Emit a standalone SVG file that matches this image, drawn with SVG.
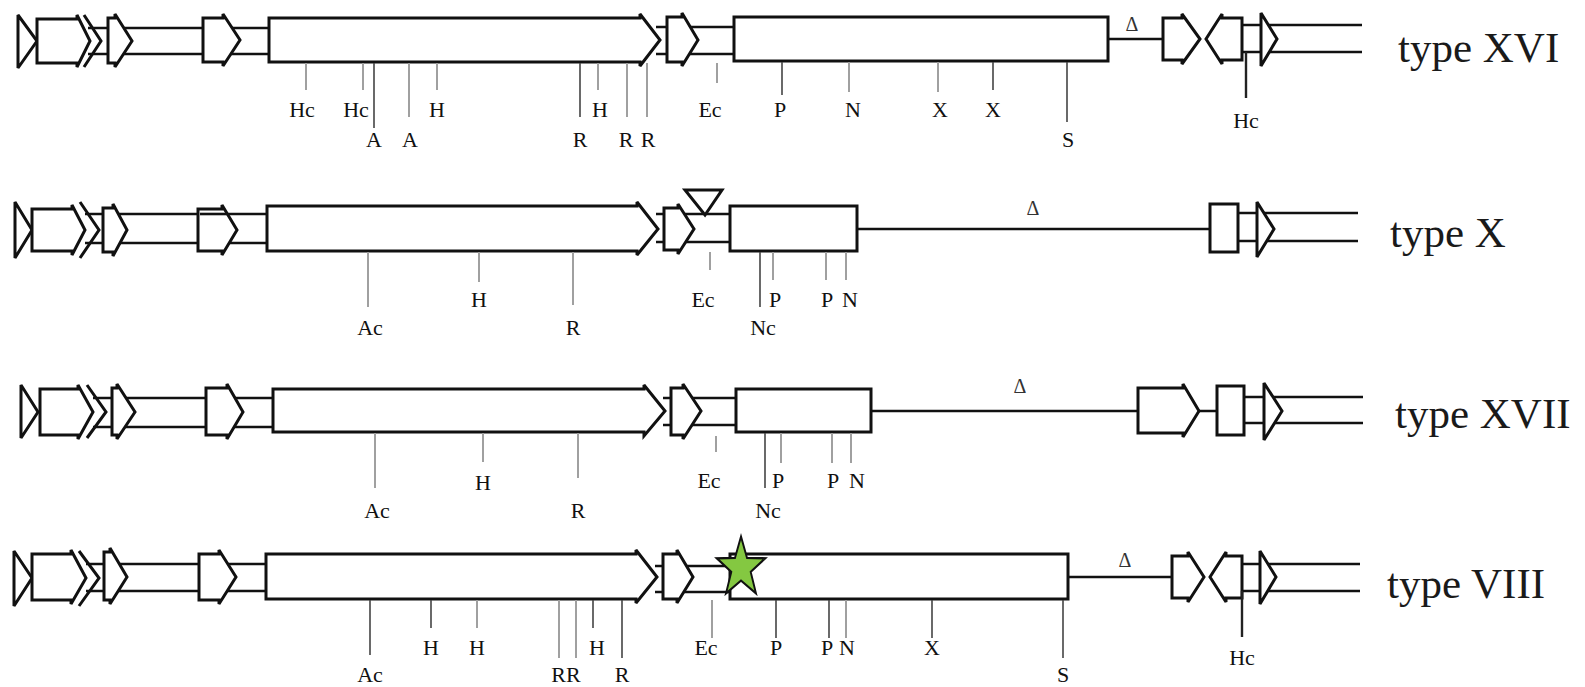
<svg xmlns="http://www.w3.org/2000/svg" width="1585" height="687" viewBox="0 0 1585 687">
<style>
  .o{fill:#fff;stroke:#111;stroke-width:3;stroke-linejoin:miter;stroke-miterlimit:3}
  .ch{fill:none;stroke:#111;stroke-width:3;stroke-miterlimit:3}
  .t{stroke:#111;stroke-width:2.6;fill:none}
  .g{stroke:#a0a0a0;stroke-width:2}
  .k{stroke:#444;stroke-width:1.6}
  .lb{font-family:"Liberation Serif","Times New Roman",serif;font-size:22px;fill:#111;text-anchor:middle}
  .d{font-family:"Liberation Serif","Times New Roman",serif;font-size:20px;fill:#333;text-anchor:middle}
  .ty{font-family:"Liberation Serif","Times New Roman",serif;font-size:43px;fill:#1a1a1a}
</style>
<rect width="1585" height="687" fill="#fff"/>

<!-- ===== type XVI ===== -->
<g id="type-XVI">
  <g id="xvi-tubes">
    <path class="t" d="M88 28H269M88 54H269M656 27H734M656 54H734M1108 39H1163M1242 25H1362M1242 52H1362"/>
  </g>
  <polygon class="o" points="18,15 37,41 18,68"/>
  <polygon class="o" points="37,19 77,19 77,15 90,41 77,67 77,63 37,63"/>
  <polyline class="ch" points="84,15 101,41 84,67"/>
  <polygon class="o" points="108,18 115,18 115,14 132,41 115,67 115,63 108,63"/>
  <polygon class="o" points="203,18 223,18 223,14 240,40 223,66 223,62 203,62"/>
  <polygon class="o" points="269,18 640,18 640,14 660,40 640,66 640,62 269,62"/>
  <polygon class="o" points="667,17 682,17 682,13 698,40 682,66 682,62 667,62"/>
  <rect class="o" x="734" y="17" width="374" height="44"/>
  <text class="d" x="1132" y="31">Δ</text>
  <polygon class="o" points="1163,18 1182,18 1182,14 1200,39 1182,64 1182,60 1163,60"/>
  <polygon class="o" points="1242,18 1222,18 1222,14 1206,39 1222,64 1222,60 1242,60"/>
  <polygon class="o" points="1261,13 1277,39 1261,66"/>
  <text class="ty" x="1398" y="62">type XVI</text>
  <g id="xvi-sites">
    <line class="g" x1="306" y1="63" x2="306" y2="90"/>
    <line class="g" x1="363" y1="63" x2="363" y2="90"/>
    <line class="k" x1="374" y1="63" x2="374" y2="128"/>
    <line class="g" x1="409" y1="63" x2="409" y2="117"/>
    <line class="g" x1="437" y1="63" x2="437" y2="90"/>
    <line class="k" x1="580" y1="63" x2="580" y2="117"/>
    <line class="g" x1="598" y1="63" x2="598" y2="90"/>
    <line class="g" x1="627" y1="63" x2="627" y2="117"/>
    <line class="g" x1="647" y1="63" x2="647" y2="117"/>
    <line class="g" x1="717" y1="63" x2="717" y2="83"/>
    <line class="k" x1="782" y1="62" x2="782" y2="95"/>
    <line class="g" x1="849" y1="62" x2="849" y2="92"/>
    <line class="g" x1="938" y1="62" x2="938" y2="92"/>
    <line class="k" x1="993" y1="62" x2="993" y2="90"/>
    <line class="k" x1="1067" y1="62" x2="1067" y2="122"/>
    <line stroke="#222" stroke-width="2.4" x1="1246" y1="52" x2="1246" y2="98"/>
    <text class="lb" x="302" y="117">Hc</text>
    <text class="lb" x="356" y="117">Hc</text>
    <text class="lb" x="374" y="147">A</text>
    <text class="lb" x="410" y="147">A</text>
    <text class="lb" x="437" y="117">H</text>
    <text class="lb" x="580" y="147">R</text>
    <text class="lb" x="600" y="117">H</text>
    <text class="lb" x="626" y="147">R</text>
    <text class="lb" x="648" y="147">R</text>
    <text class="lb" x="710" y="117">Ec</text>
    <text class="lb" x="780" y="117">P</text>
    <text class="lb" x="853" y="117">N</text>
    <text class="lb" x="940" y="117">X</text>
    <text class="lb" x="993" y="117">X</text>
    <text class="lb" x="1068" y="147">S</text>
    <text class="lb" x="1246" y="128">Hc</text>
  </g>
</g>

<!-- ===== type X ===== -->
<g id="type-X">
  <g id="x-tubes">
    <path class="t" d="M85 214H267M85 243H267M656 214H730M656 242H730M857 229H1210M1238 213H1358M1238 241H1358"/>
  </g>
  <polygon class="o" points="15,202 32,230 15,258"/>
  <polygon class="o" points="32,209 72,209 72,205 85,230 72,255 72,251 32,251"/>
  <polyline class="ch" points="80,202 99,230 80,258"/>
  <polygon class="o" points="103,208 113,208 113,204 127,230 113,256 113,252 103,252"/>
  <polygon class="o" points="198,209 222,209 222,205 237,230 222,255 222,251 198,251"/>
  <line class="t" x1="200" y1="214" x2="228" y2="214"/>
  <polygon class="o" points="267,206 637,206 637,202 658,229 637,255 637,251 267,251"/>
  <polygon class="o" points="664,208 678,208 678,204 694,229 678,254 678,250 664,250"/>
  <polygon class="o" points="685,190 722,190 705,215"/>
  <rect class="o" x="730" y="206" width="127" height="45"/>
  <text class="d" x="1033" y="215">Δ</text>
  <rect class="o" x="1210" y="204" width="28" height="48"/>
  <polygon class="o" points="1257,202 1274,229 1257,257"/>
  <text class="ty" x="1390" y="247">type X</text>
  <g id="x-sites">
    <line class="g" x1="368" y1="252" x2="368" y2="307"/>
    <line class="g" x1="479" y1="252" x2="479" y2="282"/>
    <line class="g" x1="573" y1="252" x2="573" y2="305"/>
    <line class="g" x1="710" y1="252" x2="710" y2="270"/>
    <line class="k" x1="760" y1="252" x2="760" y2="307"/>
    <line class="g" x1="773" y1="252" x2="773" y2="280"/>
    <line class="g" x1="826" y1="252" x2="826" y2="280"/>
    <line class="g" x1="846" y1="252" x2="846" y2="280"/>
    <text class="lb" x="370" y="335">Ac</text>
    <text class="lb" x="479" y="307">H</text>
    <text class="lb" x="573" y="335">R</text>
    <text class="lb" x="703" y="307">Ec</text>
    <text class="lb" x="763" y="335">Nc</text>
    <text class="lb" x="775" y="307">P</text>
    <text class="lb" x="827" y="307">P</text>
    <text class="lb" x="850" y="307">N</text>
  </g>
</g>

<!-- ===== type XVII ===== -->
<g id="type-XVII">
  <g id="xvii-tubes">
    <path class="t" d="M93 398H273M93 427H273M663 398H736M663 425H736M871 411H1138M1199 411H1217M1244 397H1363M1244 423H1363"/>
  </g>
  <polygon class="o" points="21,385 38,412 21,438"/>
  <polygon class="o" points="40,389 78,389 78,385 93,412 78,439 78,435 40,435"/>
  <polyline class="ch" points="87,385 106,412 87,438"/>
  <polygon class="o" points="112,388 117,388 117,384 135,412 117,439 117,435 112,435"/>
  <polygon class="o" points="206,388 227,388 227,384 243,412 227,439 227,435 206,435"/>
  <polygon class="o" points="273,389 644,389 644,385 665,411 644,436 644,432 273,432"/>
  <polygon class="o" points="671,388 683,388 683,384 701,411 683,439 683,435 671,435"/>
  <rect class="o" x="736" y="389" width="135" height="43"/>
  <text class="d" x="1020" y="393">Δ</text>
  <polygon class="o" points="1138,388 1183,388 1183,384 1199,411 1183,437 1183,433 1138,433"/>
  <rect class="o" x="1217" y="386" width="27" height="49"/>
  <polygon class="o" points="1264,383 1282,411 1264,440"/>
  <text class="ty" x="1395" y="428">type XVII</text>
  <g id="xvii-sites">
    <line class="g" x1="375" y1="433" x2="375" y2="488"/>
    <line class="g" x1="483" y1="433" x2="483" y2="462"/>
    <line class="g" x1="578" y1="433" x2="578" y2="478"/>
    <line class="g" x1="716" y1="436" x2="716" y2="452"/>
    <line class="k" x1="765" y1="433" x2="765" y2="488"/>
    <line class="g" x1="781" y1="433" x2="781" y2="463"/>
    <line class="g" x1="832" y1="433" x2="832" y2="463"/>
    <line class="g" x1="851" y1="433" x2="851" y2="463"/>
    <text class="lb" x="377" y="518">Ac</text>
    <text class="lb" x="483" y="490">H</text>
    <text class="lb" x="578" y="518">R</text>
    <text class="lb" x="709" y="488">Ec</text>
    <text class="lb" x="768" y="518">Nc</text>
    <text class="lb" x="778" y="488">P</text>
    <text class="lb" x="833" y="488">P</text>
    <text class="lb" x="857" y="488">N</text>
  </g>
</g>

<!-- ===== type VIII ===== -->
<g id="type-VIII">
  <g id="viii-tubes">
    <path class="t" d="M86 564H266M86 591H266M655 566H730M655 592H730M1068 577H1172M1242 564H1360M1242 591H1360"/>
  </g>
  <polygon class="o" points="14,551 32,578 14,606"/>
  <polygon class="o" points="32,554 71,554 71,550 86,578 71,604 71,600 32,600"/>
  <polyline class="ch" points="79,551 99,578 79,606"/>
  <polygon class="o" points="104,552 110,552 110,548 127,577 110,604 110,600 104,600"/>
  <polygon class="o" points="199,554 219,554 219,550 236,577 219,604 219,600 199,600"/>
  <polygon class="o" points="266,554 636,554 636,550 657,577 636,603 636,599 266,599"/>
  <polygon class="o" points="663,554 677,554 677,550 693,577 677,603 677,599 663,599"/>
  <rect class="o" x="730" y="554" width="338" height="45"/>
  <text class="d" x="1125" y="567">Δ</text>
  <polygon class="o" points="1172,556 1188,556 1188,552 1204,577 1188,602 1188,598 1172,598"/>
  <polygon class="o" points="1242,556 1226,556 1226,552 1210,577 1226,602 1226,598 1242,598"/>
  <polygon class="o" points="1260,551 1276,577 1260,604"/>
  <text class="ty" x="1387" y="598">type VIII</text>
  <g id="viii-sites">
    <line class="k" x1="370" y1="600" x2="370" y2="655"/>
    <line class="k" x1="431" y1="600" x2="431" y2="628"/>
    <line class="g" x1="477" y1="600" x2="477" y2="628"/>
    <line class="g" x1="559" y1="600" x2="559" y2="658"/>
    <line class="g" x1="576" y1="600" x2="576" y2="658"/>
    <line class="k" x1="593" y1="600" x2="593" y2="628"/>
    <line class="k" x1="622" y1="600" x2="622" y2="658"/>
    <line class="g" x1="712" y1="600" x2="712" y2="638"/>
    <line class="k" x1="776" y1="600" x2="776" y2="638"/>
    <line class="k" x1="829" y1="600" x2="829" y2="638"/>
    <line class="g" x1="846" y1="600" x2="846" y2="638"/>
    <line class="k" x1="932" y1="600" x2="932" y2="638"/>
    <line class="k" x1="1063" y1="600" x2="1063" y2="658"/>
    <line stroke="#222" stroke-width="2.4" x1="1242" y1="591" x2="1242" y2="637"/>
    <text class="lb" x="370" y="682">Ac</text>
    <text class="lb" x="431" y="655">H</text>
    <text class="lb" x="477" y="655">H</text>
    <text class="lb" x="566" y="682">RR</text>
    <text class="lb" x="597" y="655">H</text>
    <text class="lb" x="622" y="682">R</text>
    <text class="lb" x="706" y="655">Ec</text>
    <text class="lb" x="776" y="655">P</text>
    <text class="lb" x="827" y="655">P</text>
    <text class="lb" x="847" y="655">N</text>
    <text class="lb" x="932" y="655">X</text>
    <text class="lb" x="1063" y="682">S</text>
    <text class="lb" x="1242" y="665">Hc</text>
  </g>
  <g id="insertion-star" transform="translate(741,568) scale(0.85,1.05)">
    <polygon points="0,-30 7.05,-9.71 28.53,-9.27 11.41,3.71 17.63,24.27 0,12 -17.63,24.27 -11.41,3.71 -28.53,-9.27 -7.05,-9.71" fill="#84c841" stroke="#111" stroke-width="2.2" stroke-linejoin="miter"/>
  </g>
</g>
</svg>
